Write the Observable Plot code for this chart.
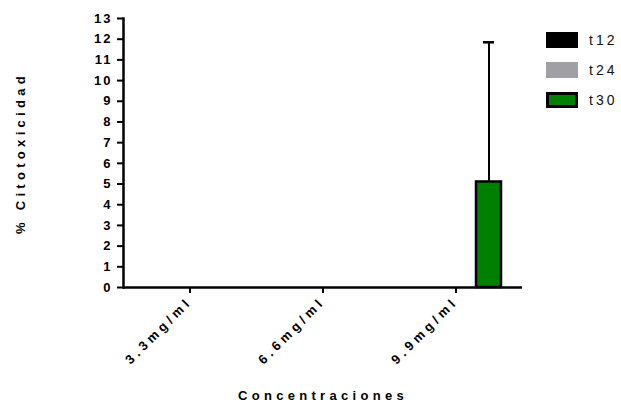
<!DOCTYPE html>
<html><head><meta charset="utf-8">
<script src="https://cdn.jsdelivr.net/npm/d3@7"></script>
<script src="https://cdn.jsdelivr.net/npm/@observablehq/plot@0.6"></script>
<style>
body{margin:0;background:#fff;}
#wrap{position:relative;width:621px;height:403px;font-family:"Liberation Sans",Arial,sans-serif;}
#legend{position:absolute;left:546px;top:32px;}
.item{position:absolute;left:0;width:80px;height:16px;}
.sw{position:absolute;left:0;top:0;width:32px;height:16px;box-sizing:border-box;}
.lab{position:absolute;left:43px;top:0;line-height:16px;font-size:14px;letter-spacing:3px;color:#111;}
</style></head><body><div id="wrap"></div>
<script>
const concentrations = ["3.3mg/ml","6.6mg/ml","9.9mg/ml"];
const series = ["t12","t24","t30"];
const colors = ["#000000","#a0a0a4","#008000"];
const t12 = [0,0,0];
const t24 = [0,0,0];
const t30 = [0,0,5.1];
const t30Err = [0,0,6.75];
const yTicks = [0,1,2,3,4,5,6,7,8,9,10,11,12,13];

const vals = {t12, t24, t30};
const errs = {t12:[0,0,0], t24:[0,0,0], t30:t30Err};
const rows = concentrations.flatMap((c,i)=>series.map(s=>({c, s, v:vals[s][i], e:errs[s][i]})));
const errRows = rows.filter(d=>d.e>0);

const plot = Plot.plot({
  width:621, height:403,
  marginLeft:122, marginRight:99, marginTop:18, marginBottom:116,
  style:{fontFamily:"Liberation Sans, Arial, sans-serif", fontWeight:"bold", fontSize:"13px", letterSpacing:"2px", color:"#000", background:"#fff"},
  fx:{domain:concentrations, padding:0, label:null},
  x:{domain:series, paddingInner:0.24, paddingOuter:0.58, axis:null},
  y:{domain:[0,13], axis:null},
  color:{domain:series, range:colors},
  marks:[
    Plot.barY(rows,{fx:"c", x:"s", y:"v", fill:"s", stroke:"#000", strokeWidth:2.5}),
    Plot.ruleX(errRows,{fx:"c", x:"s", y1:"v", y2:d=>d.v+d.e, stroke:"#000", strokeWidth:2}),
    Plot.tickY(errRows,{fx:"c", x:"s", y:d=>d.v+d.e, stroke:"#000", strokeWidth:2.5, insetLeft:7, insetRight:7}),
    Plot.ruleY([0],{stroke:"#000", strokeWidth:2.5}),
    Plot.frame({anchor:"left", facetAnchor:"left", stroke:"#000", strokeWidth:2.5}),
    Plot.axisY({ticks:yTicks, tickSize:6, tickPadding:5, strokeWidth:2, label:null}),
    Plot.axisY({ticks:[], label:"% Citotoxicidad", labelAnchor:"center", labelOffset:108, labelArrow:"none"}),
    Plot.axisFx({anchor:"bottom", tickSize:6, strokeWidth:2, tickPadding:6, tickRotate:-45, label:null}),
    Plot.axisFx({anchor:"bottom", ticks:[], tickSize:0, label:"Concentraciones", labelAnchor:"center", labelOffset:112, labelArrow:"none"})
  ]
});
const sel = d3.select(plot);
sel.selectAll('g[aria-label="y-axis label"] text, g[aria-label="fx-axis label"] text')
  .style("font-size","13px").style("letter-spacing","4.3px");
sel.selectAll('g[aria-label="fx-axis tick label"] text')
  .style("letter-spacing","4px");
const wrap = document.getElementById("wrap");
wrap.appendChild(plot);

const legend = document.createElement("div");
legend.id = "legend";
series.forEach((s,i)=>{
  const it = document.createElement("div");
  it.className = "item";
  it.style.top = (i*30)+"px";
  const sw = document.createElement("div");
  sw.className = "sw";
  sw.style.background = colors[i];
  if (s==="t30") sw.style.border = "3px solid #000";
  const lb = document.createElement("div");
  lb.className = "lab";
  lb.textContent = s;
  it.appendChild(sw); it.appendChild(lb);
  legend.appendChild(it);
});
wrap.appendChild(legend);
</script></body></html>
